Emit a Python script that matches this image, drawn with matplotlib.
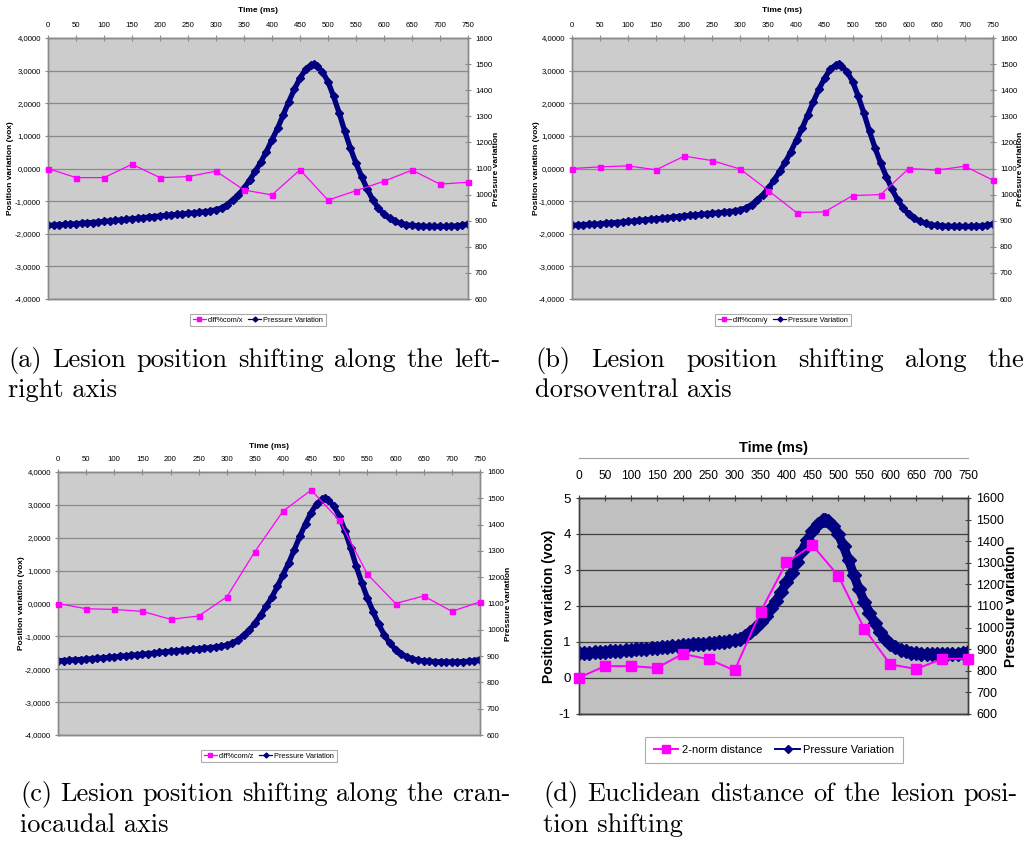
import matplotlib
matplotlib.use("Agg")
import matplotlib.pyplot as plt
from matplotlib import font_manager
from matplotlib.lines import Line2D
from matplotlib.transforms import blended_transform_factory

# ---------------- data ----------------
times_pos = [0, 50, 100, 150, 200, 250, 300, 350, 400, 450, 500, 550, 600, 650, 700, 750]
diff_x = [0.0, -0.28, -0.28, 0.13, -0.28, -0.25, -0.08, -0.66, -0.81, -0.04, -0.97, -0.68, -0.39, -0.05, -0.48, -0.42]
diff_y = [0.0, 0.05, 0.08, -0.04, 0.38, 0.24, -0.02, -0.68, -1.35, -1.33, -0.83, -0.80, 0.0, -0.05, 0.07, -0.36]
diff_z = [0.0, -0.16, -0.18, -0.24, -0.48, -0.38, 0.20, 1.58, 2.81, 3.45, 2.53, 0.89, 0.0, 0.23, -0.24, 0.05]
norm2 = [0.01, 0.33, 0.33, 0.28, 0.67, 0.52, 0.21, 1.84, 3.21, 3.69, 2.84, 1.37, 0.38, 0.25, 0.53, 0.54]

times_p = [0, 10, 20, 30, 40, 50, 60, 70, 80, 90, 100, 110, 120, 130, 140, 150, 160, 170, 180, 190,
           200, 210, 220, 230, 240, 250, 260, 270, 280, 290, 300, 310, 320, 330, 340, 350, 360, 370,
           380, 390, 400, 410, 420, 430, 440, 450, 460, 470, 475, 480, 490, 500, 510, 520, 530, 540,
           550, 560, 570, 580, 590, 600, 610, 620, 630, 640, 650, 660, 670, 680, 690, 700, 710, 720,
           730, 740, 750]
pressure = [882, 883, 884, 886, 887, 888, 890, 892, 893, 895, 897, 899, 901, 903, 905, 907, 909, 911,
            914, 916, 918, 920, 922, 924, 926, 928, 930, 932, 934, 937, 942, 949, 962, 980, 999, 1025,
            1055, 1089, 1124, 1165, 1210, 1254, 1305, 1356, 1404, 1446, 1480, 1497, 1500, 1494, 1471,
            1433, 1376, 1312, 1242, 1178, 1120, 1069, 1021, 980, 948, 925, 909, 897, 890, 884, 882,
            880, 879, 878, 878, 878, 878, 879, 880, 883, 887]

series_names = ["diff%com/x", "diff%com/y", "diff%com/z", "2-norm distance"]
pressure_name = "Pressure Variation"
time_label = "Time (ms)"
left_label = "Position variation (vox)"
right_label = "Pressure variation"
xticks = list(range(0, 751, 50))

captions = [
    ["(a) Lesion position shifting along the left-", "right axis"],
    ["(b) Lesion position shifting along the", "dorsoventral axis"],
    ["(c) Lesion position shifting along the cran-", "iocaudal axis"],
    ["(d) Euclidean distance of the lesion posi-", "tion shifting"],
]

# ---------------- fonts ----------------
def has_font(name):
    try:
        font_manager.findfont(name, fallback_to_default=False)
        return True
    except Exception:
        return False

NARROW = "Liberation Sans Narrow" if has_font("Liberation Sans Narrow") else "Liberation Sans"
BOLD = "Liberation Sans"
SERIF = "cmr10"
plt.rcParams["axes.formatter.use_mathtext"] = False
plt.rcParams["axes.unicode_minus"] = False

W, H = 1025, 841
fig = plt.figure(figsize=(W / 100, H / 100), dpi=100)

PINK = "#FF00FF"
NAVY = "#000080"


def rect(l, r, t, b):
    return [l / W, 1 - b / H, (r - l) / W, (b - t) / H]


def fx(x):
    return x / W


def fy(y):
    return 1 - y / H


def panel(box, pos_vals, name, small, time_y, leg_c, ylx, yrx, line_y=None):
    l, r, t, b = box
    ax = fig.add_axes(rect(l, r, t, b))
    ax2 = ax.twinx()
    ax.set_zorder(2)
    ax2.set_zorder(1)
    ax.patch.set_visible(False)
    ax2.patch.set_visible(True)
    if small:
        bg, gc, sc = "#CCCCCC", "#8A8A8A", "#8A8A8A"
        tfs, lfs, legfs = 5.6, 6.0, 5.3
        ax.set_ylim(-4, 4)
        ax.set_yticks(range(-4, 5))
        ax.yaxis.set_major_formatter(plt.FuncFormatter(lambda v, p: f"{v:.4f}".replace(".", ",")))
        plw, pms, pkms, pklw = 3.8, 4.0, 3.6, 0.9
        xpad, ypad = 4, 2.5
    else:
        bg, gc, sc = "#C0C0C0", "#404040", "#404040"
        tfs, lfs, legfs = 8.6, 9.5, 8.0
        ax.set_ylim(-1, 5)
        ax.set_yticks(range(-1, 6))
        plw, pms, pkms, pklw = 6.5, 7.0, 6.5, 1.4
        xpad, ypad = 9, 3.5
    ax2.set_facecolor(bg)
    ax.set_xlim(0, 750)
    ax.set_xticks(xticks)
    ax2.set_ylim(600, 1600)
    ax2.set_yticks(range(600, 1601, 100))

    # grid lines drawn beneath the pressure curve
    tr = blended_transform_factory(ax2.transAxes, ax.transData)
    for v in ax.get_yticks():
        ax2.plot([0, 1], [v, v], transform=tr, color=gc, lw=0.9, zorder=0.5, clip_on=False)

    ax2.plot(times_p, pressure, color=NAVY, lw=plw, marker="D", ms=pms, zorder=3,
             solid_capstyle="round", solid_joinstyle="round")
    ax.plot(times_pos, pos_vals, color=PINK, lw=pklw, marker="s", ms=pkms, zorder=4, clip_on=False)

    ax.xaxis.tick_top()
    for a in (ax, ax2):
        for s in a.spines.values():
            s.set_color(sc)
            s.set_linewidth(1.0)
    ax.tick_params(axis="x", direction="inout", length=5, color=sc, labelsize=tfs, pad=xpad)
    ax.tick_params(axis="y", direction="inout", length=5, color=sc, labelsize=tfs + (1 if not small else 0), pad=ypad)
    ax2.tick_params(axis="y", direction="inout", length=5, color=sc, labelsize=tfs + (0.4 if not small else 0), pad=ypad)
    for lab in ax.get_xticklabels() + ax.get_yticklabels() + ax2.get_yticklabels():
        lab.set_fontfamily(NARROW)

    # axis titles
    fig.text(fx((l + r) / 2), fy(time_y), time_label, ha="center", va="center",
             fontsize=lfs if small else 10.5, fontweight="bold", family=NARROW)
    if line_y is not None:
        fig.add_artist(Line2D([fx(l), fx(r)], [fy(line_y), fy(line_y)], color="#A0A0A0", lw=0.8))
    yc = (t + b) / 2
    fig.text(fx(ylx), fy(yc), left_label, rotation=90, ha="center", va="center",
             fontsize=lfs if small else 10, fontweight="bold", family=BOLD)
    fig.text(fx(yrx), fy(yc), right_label, rotation=90, ha="center", va="center",
             fontsize=lfs if small else 10, fontweight="bold", family=BOLD)

    h1 = Line2D([], [], color=PINK, lw=pklw, marker="s", ms=pkms * 0.9)
    h2 = Line2D([], [], color=NAVY, lw=pklw, marker="D", ms=pkms * 0.7)
    leg = fig.legend([h1, h2], [name, pressure_name], loc="center",
                     bbox_to_anchor=(fx(leg_c[0]), fy(leg_c[1])), ncol=2, frameon=True,
                     fancybox=False, prop={"family": NARROW, "size": legfs},
                     handlelength=1.8 if small else 2.2, handletextpad=0.3,
                     columnspacing=0.6 if small else 1.2,
                     borderpad=0.35 if small else 0.75, borderaxespad=0)
    leg.get_frame().set_edgecolor("#999999")
    leg.get_frame().set_linewidth(0.8)
    return ax, ax2


panel((48, 468, 38, 299), diff_x, series_names[0], True, 11, (258, 320), 11, 496)
panel((572, 993, 38, 299), diff_y, series_names[1], True, 11, (783, 320), 537, 1020)
panel((58, 480, 472, 735), diff_z, series_names[2], True, 447, (269, 756), 22, 508)
panel((579, 968, 498, 714), norm2, series_names[3], False, 448, (774, 750), 549, 1011, line_y=458)

# ---------------- captions (justified like LaTeX) ----------------
renderer = fig.canvas.get_renderer()
CAP_FS = 19


def caption(lines, x0, x1, y_first, dy):
    for i, line in enumerate(lines):
        y = y_first + i * dy
        words = line.split(" ")
        justify = (i < len(lines) - 1)
        if not justify:
            fig.text(fx(x0), fy(y), line, ha="left", va="baseline", fontsize=CAP_FS, family=SERIF)
            continue
        arts = [fig.text(fx(x0), fy(y), w, ha="left", va="baseline", fontsize=CAP_FS, family=SERIF)
                for w in words]
        widths = [a.get_window_extent(renderer).width for a in arts]
        gap = (x1 - x0 - sum(widths)) / (len(words) - 1)
        x = x0
        for a, wd in zip(arts, widths):
            a.set_x(fx(x))
            x += wd + gap


caption(captions[0], 8, 500, 367, 30)
caption(captions[1], 535, 1024, 367, 30)
caption(captions[2], 20, 510, 801, 31)
caption(captions[3], 543, 1018, 801, 31)

fig.savefig("out.png", dpi=100)
